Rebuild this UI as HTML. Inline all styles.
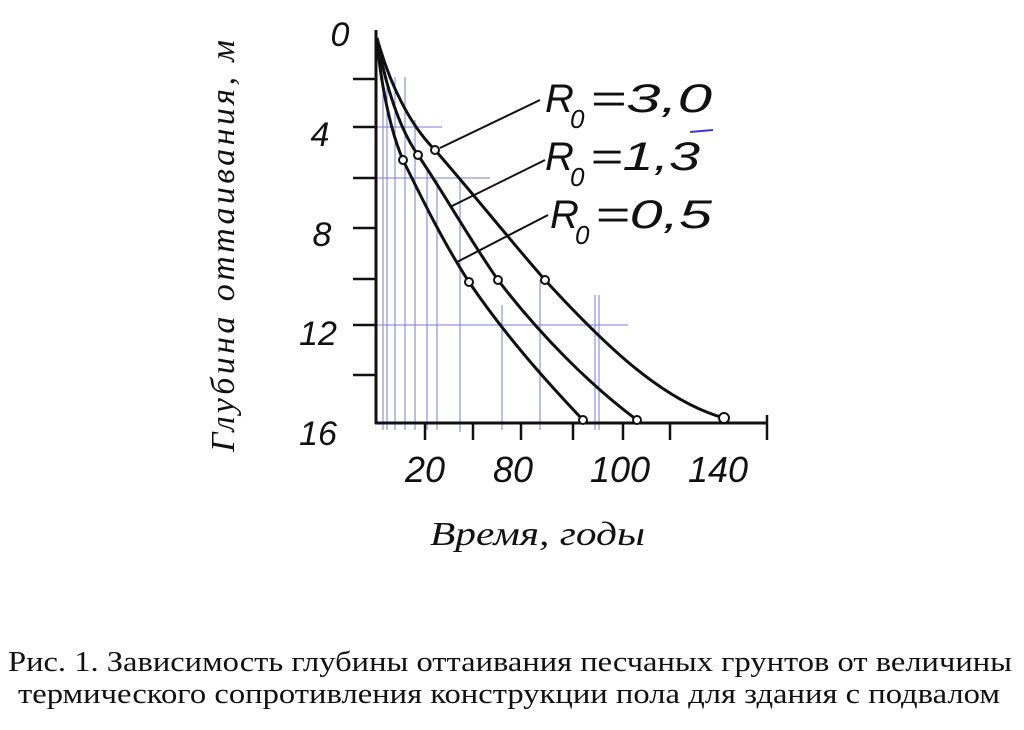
<!DOCTYPE html>
<html><head><meta charset="utf-8"><style>
html,body{margin:0;padding:0;background:#fff;}
svg{display:block;}
</style></head><body>
<svg width="1024" height="730" viewBox="0 0 1024 730" xmlns="http://www.w3.org/2000/svg">
<rect width="1024" height="730" fill="#fff"/>
<g stroke="#5a5ad8" stroke-width="1" opacity="0.8">
<line x1="375" y1="127" x2="442" y2="127"/>
<line x1="375" y1="178" x2="490" y2="178"/>
<line x1="375" y1="325" x2="628" y2="325"/>
<line x1="383" y1="77" x2="383" y2="430"/>
<line x1="387" y1="77" x2="387" y2="430"/>
<line x1="395" y1="77" x2="395" y2="430"/>
<line x1="405" y1="77" x2="405" y2="430"/>
<line x1="415" y1="120" x2="415" y2="430"/>
<line x1="427" y1="170" x2="427" y2="430"/>
<line x1="437" y1="180" x2="437" y2="430"/>
<line x1="460" y1="180" x2="460" y2="432"/>
<line x1="502" y1="305" x2="502" y2="430"/>
<line x1="540" y1="280" x2="540" y2="430"/>
<line x1="595" y1="295" x2="595" y2="430"/>
<line x1="599" y1="295" x2="599" y2="430"/>
</g>
<g stroke="#111" stroke-width="3" fill="none">
<line x1="376" y1="30" x2="376" y2="424"/>
<line x1="375" y1="423" x2="768" y2="423"/>
<line x1="353" y1="79" x2="376" y2="79" stroke-width="2.5"/>
<line x1="353" y1="127" x2="376" y2="127" stroke-width="2.5"/>
<line x1="353" y1="178" x2="376" y2="178" stroke-width="2.5"/>
<line x1="353" y1="228" x2="376" y2="228" stroke-width="2.5"/>
<line x1="353" y1="279" x2="376" y2="279" stroke-width="2.5"/>
<line x1="353" y1="325" x2="376" y2="325" stroke-width="2.5"/>
<line x1="353" y1="375" x2="376" y2="375" stroke-width="2.5"/>
<line x1="425" y1="423" x2="425" y2="440" stroke-width="2.5"/>
<line x1="473" y1="423" x2="473" y2="440" stroke-width="2.5"/>
<line x1="521" y1="423" x2="521" y2="440" stroke-width="2.5"/>
<line x1="573" y1="423" x2="573" y2="440" stroke-width="2.5"/>
<line x1="623" y1="423" x2="623" y2="440" stroke-width="2.5"/>
<line x1="670" y1="423" x2="670" y2="440" stroke-width="2.5"/>
<line x1="767" y1="415" x2="767" y2="440" stroke-width="2.5"/>
<path d="M377,38 C380,80 390,130 403,160 C425,205 445,245 469,282 C505,335 545,380 583,420"/>
<path d="M377,38 C385,85 400,130 418,155 C445,195 470,240 498,280 C540,335 590,385 637,420"/>
<path d="M377,38 C390,85 410,125 435,150 C470,190 510,240 545,280 C600,340 660,400 724,418"/>
<line x1="440" y1="148" x2="540" y2="100" stroke-width="2"/>
<line x1="450" y1="207" x2="545" y2="160" stroke-width="2"/>
<line x1="457" y1="262" x2="548" y2="215" stroke-width="2"/>
</g>
<g fill="#fff" stroke="#111" stroke-width="2">
<circle cx="403" cy="160" r="4"/><circle cx="418" cy="155" r="4"/><circle cx="435" cy="150" r="4"/>
<circle cx="469" cy="282" r="4"/><circle cx="498" cy="280" r="4"/><circle cx="545" cy="280" r="4"/>
<circle cx="583" cy="420" r="4"/><circle cx="637" cy="420" r="4"/><circle cx="724" cy="418" r="5"/>
</g>
<g font-family="'Liberation Sans',sans-serif" font-style="italic" font-size="34" fill="#111">
<text x="340" y="46" text-anchor="middle">0</text>
<text x="320" y="146" text-anchor="middle">4</text>
<text x="322" y="246" text-anchor="middle">8</text>
<text x="318" y="345" text-anchor="middle">12</text>
<text x="318" y="445" text-anchor="middle">16</text>
<text x="425" y="482" text-anchor="middle" font-size="36">20</text>
<text x="513" y="482" text-anchor="middle" font-size="36">80</text>
<text x="620" y="482" text-anchor="middle" font-size="36">100</text>
<text x="718" y="482" text-anchor="middle" font-size="36">140</text>
<text x="545" y="112" font-size="40">R</text><text x="570" y="128" font-size="26">0</text><text x="590" y="112" font-size="40" textLength="122" lengthAdjust="spacingAndGlyphs">=3,0</text>
<text x="545" y="170" font-size="40">R</text><text x="570" y="186" font-size="26">0</text><text x="590" y="170" font-size="40" textLength="110" lengthAdjust="spacingAndGlyphs">=1,3</text>
<text x="550" y="228" font-size="40">R</text><text x="575" y="244" font-size="26">0</text><text x="595" y="228" font-size="40" textLength="117" lengthAdjust="spacingAndGlyphs">=0,5</text>
</g>
<line x1="690" y1="132" x2="713" y2="130" stroke="#3a3ad0" stroke-width="2"/>
<g font-family="'Liberation Serif',serif" font-style="italic" fill="#111">
<text transform="translate(234,452) rotate(-90)" font-size="34" textLength="412" lengthAdjust="spacing">Глубина оттаивания, м</text>
<text x="430" y="545" font-size="34" textLength="215" lengthAdjust="spacingAndGlyphs">Время, годы</text>
</g>
<g font-family="'Liberation Serif',serif" font-size="29" fill="#111">
<text x="8" y="671" textLength="1004" lengthAdjust="spacingAndGlyphs">Рис. 1. Зависимость глубины оттаивания песчаных грунтов от величины</text>
<text x="18" y="703" textLength="982" lengthAdjust="spacingAndGlyphs">термического сопротивления конструкции пола для здания с подвалом</text>
</g>
</svg>
</body></html>
